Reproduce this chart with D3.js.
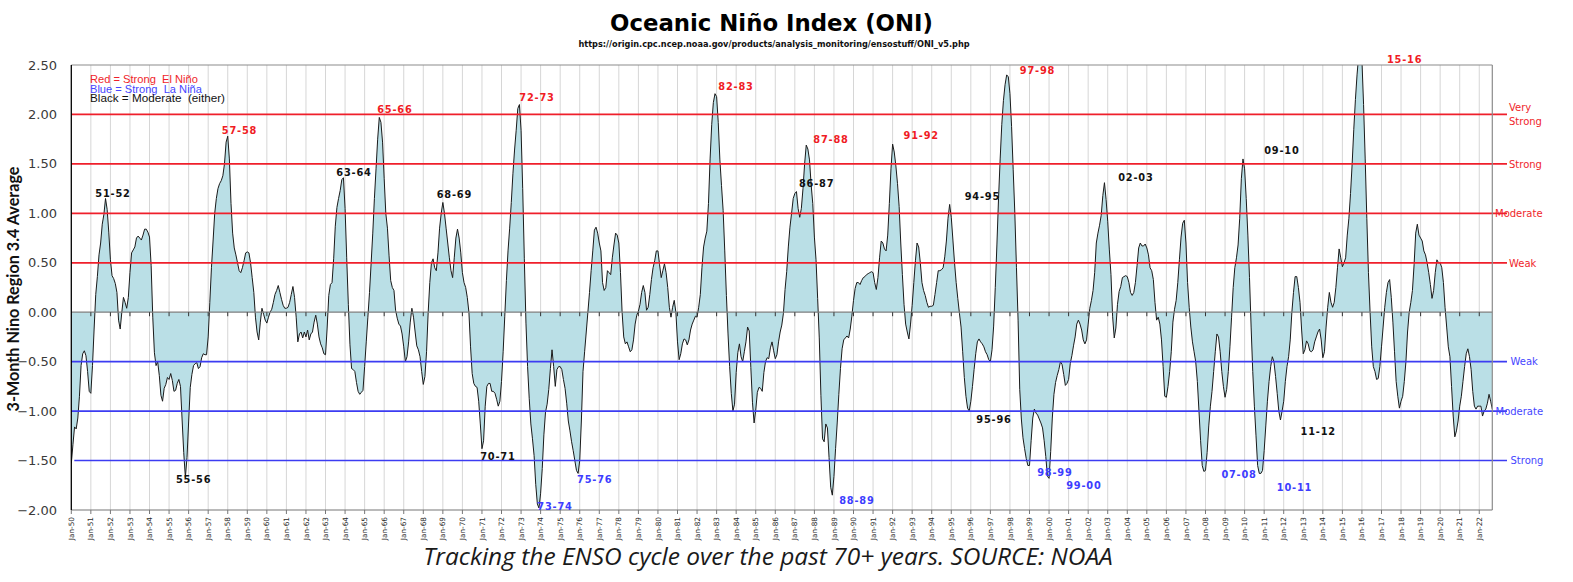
<!DOCTYPE html>
<html>
<head>
<meta charset="utf-8">
<script src="https://cdn.jsdelivr.net/npm/d3@7"></script>
<style>
  html, body { margin: 0; padding: 0; background: #ffffff; }
  svg { display: block; }
</style>
</head>
<body>
<svg id="chart" width="1573" height="582"></svg>
<script>
// ---------------- DATA ----------------
// Monthly 3-month running ONI values (first value = Jan 1950)
const oni1950s = [
  -1.53,-1.34,-1.16,-1.18,-1.07,-0.85,-0.54,-0.42,-0.39,-0.44,-0.60,-0.80,
  -0.82,-0.54,-0.17,0.18,0.36,0.58,0.70,0.89,0.99,1.15,1.04,0.81,
  0.53,0.37,0.34,0.29,0.20,-0.08,-0.17,0.00,0.15,0.10,0.04,0.15,
  0.40,0.60,0.63,0.66,0.75,0.77,0.75,0.73,0.78,0.84,0.84,0.81,
  0.76,0.47,-0.05,-0.41,-0.54,-0.50,-0.64,-0.84,-0.90,-0.77,-0.73,-0.66,
  -0.68,-0.62,-0.69,-0.80,-0.79,-0.72,-0.68,-0.75,-1.09,-1.42,-1.67,-1.47,
  -1.11,-0.76,-0.63,-0.54,-0.52,-0.51,-0.57,-0.55,-0.46,-0.42,-0.43,-0.43,
  -0.25,0.10,0.45,0.72,1.00,1.15,1.25,1.30,1.33,1.38,1.50,1.72,
  1.78,1.55,1.10,0.80,0.65,0.58,0.50,0.42,0.40,0.45,0.52,0.60,
  0.61,0.60,0.50,0.35,0.20,-0.05,-0.20,-0.28,-0.10,0.04,-0.02,-0.08
];
const oni1960s = [
  -0.11,-0.05,0.00,0.03,0.10,0.18,0.22,0.27,0.20,0.13,0.07,0.04,
  0.04,0.05,0.10,0.18,0.26,0.15,-0.05,-0.30,-0.22,-0.20,-0.26,-0.20,
  -0.25,-0.18,-0.28,-0.22,-0.20,-0.10,-0.03,-0.12,-0.25,-0.32,-0.36,-0.42,
  -0.43,-0.16,0.17,0.28,0.30,0.54,0.87,1.06,1.15,1.23,1.34,1.36,
  1.05,0.55,0.08,-0.33,-0.57,-0.58,-0.60,-0.71,-0.80,-0.83,-0.81,-0.79,
  -0.55,-0.30,-0.05,0.20,0.50,0.80,1.15,1.45,1.75,1.97,1.92,1.72,
  1.35,1.00,0.85,0.57,0.32,0.25,0.22,0.02,-0.06,-0.12,-0.14,-0.22,
  -0.35,-0.50,-0.45,-0.30,-0.10,0.04,-0.05,-0.20,-0.34,-0.38,-0.45,-0.60,
  -0.73,-0.65,-0.40,0.00,0.30,0.50,0.54,0.45,0.42,0.60,0.85,1.00,
  1.11,1.00,0.85,0.70,0.55,0.42,0.35,0.55,0.75,0.84,0.75,0.60
];
const oni1970s = [
  0.40,0.30,0.25,0.15,0.00,-0.35,-0.62,-0.72,-0.75,-0.76,-0.90,-1.13,
  -1.38,-1.30,-0.95,-0.75,-0.72,-0.72,-0.80,-0.80,-0.82,-0.88,-0.95,-0.90,
  -0.70,-0.40,-0.04,0.32,0.62,0.85,1.11,1.40,1.64,1.84,2.06,2.10,
  1.84,1.25,0.54,-0.11,-0.55,-0.87,-1.13,-1.28,-1.45,-1.74,-1.94,-1.98,
  -1.83,-1.58,-1.24,-1.01,-0.93,-0.78,-0.57,-0.38,-0.55,-0.75,-0.58,-0.55,
  -0.55,-0.58,-0.68,-0.77,-0.92,-1.10,-1.20,-1.31,-1.40,-1.50,-1.60,-1.63,
  -1.50,-1.10,-0.60,-0.40,-0.20,0.00,0.20,0.42,0.62,0.83,0.86,0.80,
  0.70,0.62,0.30,0.22,0.25,0.42,0.40,0.38,0.55,0.68,0.80,0.78,
  0.70,0.40,0.00,-0.25,-0.32,-0.30,-0.35,-0.40,-0.38,-0.28,-0.12,-0.03,
  0.01,0.08,0.20,0.27,0.20,0.02,0.05,0.18,0.33,0.45,0.52,0.62
];
const oni1980s = [
  0.62,0.48,0.35,0.42,0.49,0.40,0.25,0.05,-0.05,0.05,0.12,0.00,
  -0.30,-0.48,-0.42,-0.32,-0.27,-0.28,-0.33,-0.28,-0.18,-0.12,-0.08,-0.04,
  -0.05,0.05,0.18,0.45,0.66,0.75,0.82,1.10,1.55,1.90,2.12,2.21,
  2.18,1.92,1.54,1.28,1.03,0.62,0.17,-0.22,-0.55,-0.82,-1.00,-0.93,
  -0.61,-0.41,-0.32,-0.45,-0.50,-0.40,-0.30,-0.15,-0.19,-0.56,-0.91,-1.12,
  -0.99,-0.81,-0.76,-0.77,-0.80,-0.61,-0.50,-0.46,-0.47,-0.36,-0.30,-0.39,
  -0.47,-0.43,-0.30,-0.20,-0.13,-0.01,0.23,0.41,0.66,0.86,1.00,1.15,
  1.20,1.22,1.05,0.96,1.05,1.25,1.50,1.69,1.65,1.54,1.29,1.10,
  0.76,0.53,0.14,-0.26,-0.84,-1.28,-1.31,-1.13,-1.17,-1.47,-1.77,-1.85,
  -1.66,-1.38,-1.12,-0.83,-0.57,-0.37,-0.28,-0.26,-0.24,-0.26,-0.17,-0.04
];
const oni1990s = [
  0.12,0.24,0.30,0.30,0.28,0.32,0.35,0.36,0.38,0.39,0.40,0.41,
  0.40,0.30,0.23,0.35,0.55,0.72,0.70,0.64,0.62,0.78,1.10,1.45,
  1.70,1.62,1.48,1.30,1.07,0.70,0.38,0.08,-0.12,-0.20,-0.27,-0.12,
  0.07,0.30,0.52,0.70,0.66,0.50,0.30,0.22,0.17,0.10,0.05,0.06,
  0.06,0.07,0.18,0.30,0.42,0.42,0.43,0.45,0.56,0.72,0.95,1.09,
  0.96,0.73,0.50,0.30,0.14,-0.01,-0.15,-0.40,-0.66,-0.85,-0.97,-1.00,
  -0.90,-0.75,-0.58,-0.42,-0.30,-0.27,-0.30,-0.32,-0.35,-0.40,-0.43,-0.48,
  -0.50,-0.38,-0.14,0.25,0.68,1.15,1.55,1.90,2.14,2.30,2.40,2.38,
  2.21,1.88,1.44,1.00,0.45,-0.08,-0.78,-1.08,-1.27,-1.38,-1.48,-1.55,
  -1.55,-1.30,-1.07,-0.98,-1.02,-1.04,-1.08,-1.12,-1.17,-1.30,-1.46,-1.66
];
const oni2000s = [
  -1.68,-1.41,-1.07,-0.83,-0.71,-0.64,-0.58,-0.50,-0.53,-0.63,-0.74,-0.72,
  -0.68,-0.52,-0.44,-0.34,-0.25,-0.12,-0.08,-0.12,-0.18,-0.28,-0.32,-0.28,
  -0.12,0.04,0.12,0.22,0.40,0.70,0.80,0.88,0.98,1.18,1.31,1.14,
  0.92,0.63,0.38,-0.04,-0.26,-0.16,0.08,0.21,0.26,0.35,0.36,0.37,
  0.36,0.30,0.20,0.17,0.20,0.30,0.47,0.65,0.70,0.67,0.67,0.69,
  0.65,0.58,0.45,0.42,0.33,0.10,-0.08,-0.05,-0.12,-0.28,-0.55,-0.85,
  -0.86,-0.75,-0.60,-0.40,-0.10,0.03,0.12,0.30,0.53,0.76,0.90,0.93,
  0.70,0.30,0.05,-0.15,-0.30,-0.40,-0.50,-0.70,-1.00,-1.30,-1.55,-1.61,
  -1.60,-1.42,-1.15,-0.95,-0.80,-0.60,-0.40,-0.22,-0.25,-0.40,-0.60,-0.75,
  -0.86,-0.78,-0.60,-0.35,-0.05,0.25,0.45,0.55,0.68,0.95,1.35,1.55
];
const oni2010s = [
  1.45,1.15,0.78,0.35,-0.15,-0.60,-0.95,-1.25,-1.55,-1.63,-1.63,-1.60,
  -1.40,-1.15,-0.90,-0.70,-0.55,-0.45,-0.50,-0.65,-0.82,-1.00,-1.09,-1.00,
  -0.90,-0.70,-0.55,-0.45,-0.28,0.00,0.20,0.36,0.36,0.25,0.10,-0.18,
  -0.42,-0.38,-0.29,-0.32,-0.39,-0.40,-0.38,-0.30,-0.25,-0.20,-0.17,-0.28,
  -0.46,-0.40,-0.15,0.05,0.20,0.10,0.05,0.10,0.25,0.45,0.64,0.55,
  0.46,0.50,0.55,0.78,0.95,1.20,1.50,1.85,2.15,2.40,2.60,2.65,
  2.55,2.10,1.55,0.95,0.40,0.00,-0.35,-0.55,-0.60,-0.68,-0.67,-0.55,
  -0.35,-0.15,0.05,0.20,0.30,0.33,0.15,-0.10,-0.40,-0.70,-0.85,-0.97,
  -0.90,-0.85,-0.70,-0.50,-0.20,0.00,0.10,0.22,0.48,0.80,0.89,0.78,
  0.75,0.72,0.62,0.58,0.50,0.40,0.28,0.14,0.22,0.40,0.53,0.50
];
const oni2020s = [
  0.50,0.45,0.30,0.05,-0.15,-0.35,-0.45,-0.75,-1.05,-1.26,-1.20,-1.10,
  -0.95,-0.85,-0.70,-0.55,-0.42,-0.37,-0.45,-0.58,-0.80,-0.95,-0.98,-0.95,
  -0.95,-0.95,-1.05,-1.00,-0.98,-0.92,-0.83,-0.90,-0.98
];

// x-axis tick labels (one per January)
const xTickLabels = [
  "Jan-50","Jan-51","Jan-52","Jan-53","Jan-54","Jan-55","Jan-56","Jan-57","Jan-58","Jan-59",
  "Jan-60","Jan-61","Jan-62","Jan-63","Jan-64","Jan-65","Jan-66","Jan-67","Jan-68","Jan-69",
  "Jan-70","Jan-71","Jan-72","Jan-73","Jan-74","Jan-75","Jan-76","Jan-77","Jan-78","Jan-79",
  "Jan-80","Jan-81","Jan-82","Jan-83","Jan-84","Jan-85","Jan-86","Jan-87","Jan-88","Jan-89",
  "Jan-90","Jan-91","Jan-92","Jan-93","Jan-94","Jan-95","Jan-96","Jan-97","Jan-98","Jan-99",
  "Jan-00","Jan-01","Jan-02","Jan-03","Jan-04","Jan-05","Jan-06","Jan-07","Jan-08","Jan-09",
  "Jan-10","Jan-11","Jan-12","Jan-13","Jan-14","Jan-15","Jan-16","Jan-17","Jan-18","Jan-19",
  "Jan-20","Jan-21","Jan-22"
];
// y-axis ticks
const yTicks = [2.5, 2.0, 1.5, 1.0, 0.5, 0.0, -0.5, -1.0, -1.5, -2.0];

// Threshold levels
const elNinoLevels = [2.0, 1.5, 1.0, 0.5];
const elNinoNames  = [["Very","Strong"], ["Strong"], ["Moderate"], ["Weak"]];
const laNinaLevels = [-0.5, -1.0, -1.5];
const laNinaNames  = ["Weak", "Moderate", "Strong"];

// Event labels: season, anchor month index (0 = Jan 1950), anchor value, category
const eventSeasons = ["51-52","55-56","57-58","63-64","65-66","68-69","70-71","72-73","73-74","75-76",
                      "82-83","86-87","87-88","88-89","91-92","94-95","95-96","97-98","98-99","99-00",
                      "02-03","07-08","09-10","10-11","11-12","15-16"];
const eventMonths  = [25.6,75.1,103.2,173.5,198.6,235.1,261.8,285.8,296.8,321.2,
                      407.9,457.4,466.2,482.1,521.6,559.1,566.2,592.9,603.6,621.4,
                      653.3,716.6,742.9,750.6,765.2,818.2];
const eventValues  = [1.165,-1.727,1.80,1.378,2.015,1.16,-1.494,2.136,-2.0,-1.732,
                      2.247,1.266,1.711,-1.939,1.752,1.135,-1.12,2.414,-1.656,-1.788,
                      1.327,-1.681,1.60,-1.808,-1.242,2.52];
const eventKinds   = ["mod","mod","nino","mod","nino","mod","mod","nino","nina","nina",
                      "nino","mod","nino","nina","nino","mod","mod","nino","nina","nina",
                      "mod","nina","mod","nina","mod","nino"];

const legendLines = ["Red = Strong  El Niño", "Blue = Strong  La Niña", "Black = Moderate  (either)"];
const titleText = "Oceanic Niño Index (ONI)";
const urlText = "https://origin.cpc.ncep.noaa.gov/products/analysis_monitoring/ensostuff/ONI_v5.php";
const yTitle = "3-Month Nino Region 3.4 Average";
const captionText = "Tracking the ENSO cycle over the past 70+ years. SOURCE: NOAA";

// ---------------- DRAW ----------------
(function draw() {
const oni = [].concat(oni1950s, oni1960s, oni1970s, oni1980s, oni1990s, oni2000s, oni2010s, oni2020s);

const RED = "#ef1f2b", BLUE = "#3c3cf2";
const LBL = { nino: "#f01c24", nina: "#3d3dff", mod: "#111111" };

const svg = d3.select("#chart");
const pL = 71.3, pR = 1492.3, pT = 65, pB = 510;

const x = d3.scaleLinear().domain([0, oni.length - 1]).range([pL, pR]);
const y = d3.scaleLinear().domain([-2, 2.5]).range([pB, pT]);

function fit(sel, target) {
  const w = sel.node().getComputedTextLength();
  const fs = parseFloat(sel.attr("font-size"));
  if (w > 0) sel.attr("font-size", (fs * target / w).toFixed(2));
  return sel;
}

svg.append("defs").append("clipPath").attr("id", "plotclip")
  .append("rect").attr("x", pL).attr("y", pT).attr("width", pR - pL).attr("height", pB - pT);

// vertical gridlines at each January
const janIdx = xTickLabels.map((_, k) => k * 12);
svg.append("g").selectAll("line").data(janIdx.slice(1)).join("line")
  .attr("x1", d => x(d)).attr("x2", d => x(d))
  .attr("y1", pT).attr("y2", pB)
  .attr("stroke", "#d6d6d6").attr("stroke-width", 1);

// area + line
const g = svg.append("g").attr("clip-path", "url(#plotclip)");
g.append("path").datum(oni)
  .attr("d", d3.area().x((d, i) => x(i)).y0(y(0)).y1(d => y(d)))
  .attr("fill", "#badfe6");
g.append("path").datum(oni)
  .attr("d", d3.line().x((d, i) => x(i)).y(d => y(d)))
  .attr("fill", "none").attr("stroke", "#1a1a1a").attr("stroke-width", 1);

// threshold lines
svg.append("g").selectAll("line").data(elNinoLevels).join("line")
  .attr("x1", pL).attr("x2", 1507).attr("y1", d => y(d)).attr("y2", d => y(d))
  .attr("stroke", RED).attr("stroke-width", 1.8);
svg.append("g").selectAll("line").data(laNinaLevels).join("line")
  .attr("x1", (d, i) => i === 2 ? pL + 3 : pL).attr("x2", 1507)
  .attr("y1", d => y(d)).attr("y2", d => y(d))
  .attr("stroke", BLUE).attr("stroke-width", 1.6);

// zero line with ticks
svg.append("line").attr("x1", pL).attr("x2", pR).attr("y1", y(0)).attr("y2", y(0))
  .attr("stroke", "#7f7f7f").attr("stroke-width", 1.2);
svg.append("g").selectAll("line").data(janIdx.slice(1)).join("line")
  .attr("x1", d => x(d)).attr("x2", d => x(d)).attr("y1", y(0)).attr("y2", y(0) + 4)
  .attr("stroke", "#333").attr("stroke-width", 1);

// frame
svg.append("line").attr("x1", pL).attr("x2", pR).attr("y1", pT).attr("y2", pT).attr("stroke", "#8c8c8c").attr("stroke-width", 1.2);
svg.append("line").attr("x1", pR).attr("x2", pR).attr("y1", pT).attr("y2", pB).attr("stroke", "#8c8c8c").attr("stroke-width", 1.2);
svg.append("line").attr("x1", pL).attr("x2", pR).attr("y1", pB).attr("y2", pB).attr("stroke", "#777").attr("stroke-width", 1.2);
svg.append("line").attr("x1", pL).attr("x2", pL).attr("y1", pT).attr("y2", pB).attr("stroke", "#000").attr("stroke-width", 1.3);
svg.append("g").selectAll("line").data(janIdx).join("line")
  .attr("x1", d => x(d)).attr("x2", d => x(d)).attr("y1", pB).attr("y2", pB + 4)
  .attr("stroke", "#777").attr("stroke-width", 1);

// y tick labels
svg.append("g").selectAll("text").data(yTicks).join("text")
  .attr("x", 57).attr("y", d => y(d) + 4.6)
  .attr("text-anchor", "end")
  .attr("font-family", "DejaVu Sans, Verdana, sans-serif").attr("font-size", 13)
  .attr("fill", "#3a3a3a")
  .text(d => d3.format(".2f")(d));

// x tick labels (rotated)
svg.append("g").selectAll("text").data(xTickLabels).join("text")
  .attr("transform", (d, k) => `translate(${x(k * 12)},517) rotate(-90)`)
  .attr("text-anchor", "end").attr("dy", "0.35em")
  .attr("font-family", "DejaVu Sans, Verdana, sans-serif").attr("font-size", 7.3)
  .attr("fill", "#2a2a2a")
  .text(d => d);

// y axis title
fit(svg.append("text")
  .attr("transform", "translate(19,289) rotate(-90)")
  .attr("text-anchor", "middle")
  .attr("font-family", "Lato, sans-serif").attr("font-weight", 700).attr("font-size", 15)
  .attr("fill", "#111")
  .text(yTitle), 245);

// title and url
fit(svg.append("text").attr("x", 771.5).attr("y", 31).attr("text-anchor", "middle")
  .attr("font-family", "DejaVu Sans, Verdana, sans-serif").attr("font-weight", 700).attr("font-size", 22)
  .attr("fill", "#000").text(titleText), 323);
fit(svg.append("text").attr("x", 774).attr("y", 47).attr("text-anchor", "middle")
  .attr("font-family", "DejaVu Sans, Verdana, sans-serif").attr("font-weight", 700).attr("font-size", 8)
  .attr("fill", "#111").text(urlText), 392);

// legend lines
const legendColors = [RED, "#4646ff", "#111"];
const legendY = [83, 92.5, 102];
const legendW = [108, 112, 135];
legendLines.forEach((t, i) => {
  fit(svg.append("text").attr("x", 90).attr("y", legendY[i])
    .attr("font-family", "Liberation Sans, Arial, sans-serif").attr("font-size", 10.5)
    .attr("fill", legendColors[i]).style("white-space", "pre").text(t), legendW[i]);
});

// right side level names
const rfont = "DejaVu Sans, Verdana, sans-serif";
elNinoLevels.forEach((lv, i) => {
  const names = elNinoNames[i];
  const isMod = names[0] === "Moderate";
  if (names.length === 2) {
    names.forEach((nm, j) => {
      svg.append("text").attr("x", 1509).attr("y", y(lv) + (j === 0 ? -3 : 11))
        .attr("font-family", rfont).attr("font-size", 10).attr("fill", RED).text(nm);
    });
  } else {
    svg.append("text").attr("x", isMod ? 1495 : 1509).attr("y", y(lv) + 3.8)
      .attr("font-family", rfont).attr("font-size", 10).attr("fill", RED).text(names[0]);
  }
});
laNinaLevels.forEach((lv, i) => {
  const nm = laNinaNames[i];
  svg.append("text").attr("x", nm === "Moderate" ? 1495.5 : 1510.5).attr("y", y(lv) + 3.8)
    .attr("font-family", rfont).attr("font-size", 10).attr("fill", "#4646ff").text(nm);
});

// event labels
svg.append("g").selectAll("text").data(eventSeasons).join("text")
  .attr("x", (d, i) => x(eventMonths[i]))
  .attr("y", (d, i) => y(eventValues[i]))
  .attr("text-anchor", "middle")
  .attr("font-family", "DejaVu Sans, Verdana, sans-serif").attr("font-weight", 700)
  .attr("font-size", 9.8).attr("letter-spacing", "0.8px")
  .attr("fill", (d, i) => LBL[eventKinds[i]])
  .text(d => d);

// caption
fit(svg.append("text").attr("x", 768).attr("y", 565).attr("text-anchor", "middle")
  .attr("font-family", "Open Sans, sans-serif").attr("font-style", "italic").attr("font-size", 22)
  .attr("fill", "#1a1a1a").text(captionText), 690);
})();
</script>
</body>
</html>
